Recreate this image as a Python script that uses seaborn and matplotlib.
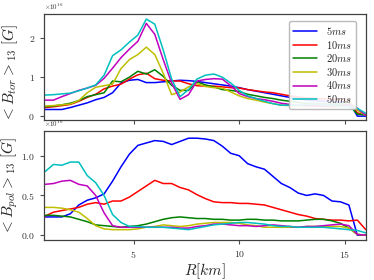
import numpy as np
import pandas as pd
import matplotlib
matplotlib.use("Agg")
import matplotlib.pyplot as plt
import seaborn as sns

R = np.round(np.arange(0.8, 16.01, 0.4), 2)
labels = ["$5ms$", "$10ms$", "$20ms$", "$30ms$", "$40ms$", "$50ms$"]
colors = ["b", "r", "g", "y", "m", "c"]

tor_5 = [0.17,0.17,0.17,0.22,0.28,0.34,0.42,0.48,0.6,0.85,0.92,0.94,0.86,0.86,0.88,0.9,0.92,0.91,0.89,0.86,0.83,0.8,0.77,0.73,0.68,0.64,0.6,0.56,0.52,0.48,0.44,0.41,0.39,0.38,0.37,0.36,0.38,0.0,0.0]
tor_10 = [0.22,0.24,0.27,0.3,0.38,0.48,0.56,0.7,0.77,0.82,0.95,1.06,1.1,0.96,0.92,0.9,0.9,0.83,0.78,0.77,0.77,0.75,0.73,0.72,0.68,0.65,0.62,0.6,0.56,0.52,0.49,0.47,0.45,0.44,0.43,0.43,0.42,0.08,0.03]
tor_20 = [0.24,0.26,0.29,0.33,0.4,0.5,0.55,0.6,0.9,0.88,1.0,1.15,1.08,1.19,1.02,0.79,0.66,0.66,0.88,0.8,0.75,0.68,0.66,0.63,0.56,0.52,0.48,0.45,0.41,0.38,0.35,0.33,0.32,0.31,0.31,0.31,0.3,0.05,0.03]
tor_30 = [0.26,0.27,0.29,0.31,0.4,0.6,0.74,0.78,0.82,1.22,1.45,1.58,1.77,1.58,1.1,0.55,0.62,0.75,0.83,0.76,0.73,0.72,0.62,0.52,0.45,0.41,0.36,0.32,0.28,0.27,0.26,0.26,0.26,0.25,0.24,0.25,0.4,0.15,0.02]
tor_40 = [0.41,0.41,0.5,0.58,0.66,0.72,0.79,0.97,1.23,1.5,1.72,1.92,2.38,2.1,1.45,0.85,0.43,0.55,0.9,0.94,0.96,0.95,0.78,0.58,0.5,0.45,0.42,0.38,0.33,0.3,0.28,0.27,0.26,0.26,0.26,0.27,0.29,0.2,0.02]
tor_50 = [0.54,0.55,0.57,0.59,0.65,0.72,0.8,1.05,1.55,1.7,1.9,2.08,2.49,2.36,1.7,0.95,0.5,0.68,0.95,1.05,1.08,1.0,0.85,0.66,0.52,0.45,0.38,0.32,0.28,0.28,0.28,0.3,0.31,0.3,0.28,0.26,0.23,0.2,0.07]

pol_5 = [0.23,0.23,0.23,0.27,0.38,0.44,0.47,0.52,0.68,0.86,1.02,1.13,1.16,1.19,1.18,1.14,1.18,1.22,1.22,1.21,1.19,1.12,1.03,1.0,0.9,0.86,0.83,0.74,0.65,0.6,0.53,0.5,0.52,0.5,0.43,0.42,0.38,0.0,0.0]
pol_10 = [0.24,0.29,0.31,0.33,0.35,0.39,0.41,0.39,0.43,0.43,0.48,0.55,0.62,0.69,0.65,0.65,0.6,0.57,0.51,0.46,0.42,0.41,0.41,0.4,0.4,0.39,0.38,0.35,0.32,0.29,0.26,0.24,0.21,0.2,0.19,0.19,0.18,0.19,0.07]
pol_20 = [0.25,0.25,0.24,0.23,0.2,0.17,0.13,0.12,0.11,0.1,0.11,0.12,0.14,0.17,0.2,0.22,0.23,0.22,0.21,0.21,0.2,0.2,0.19,0.19,0.2,0.2,0.19,0.19,0.18,0.18,0.18,0.19,0.2,0.2,0.18,0.15,0.09,0.01,0.0]
pol_30 = [0.35,0.35,0.34,0.32,0.29,0.21,0.12,0.08,0.07,0.07,0.07,0.08,0.1,0.11,0.13,0.12,0.11,0.12,0.14,0.15,0.16,0.16,0.16,0.15,0.13,0.12,0.1,0.1,0.1,0.1,0.1,0.11,0.11,0.11,0.11,0.11,0.09,0.01,0.0]
pol_40 = [0.64,0.65,0.68,0.69,0.64,0.62,0.5,0.28,0.12,0.1,0.1,0.1,0.1,0.1,0.1,0.1,0.09,0.09,0.11,0.12,0.14,0.14,0.13,0.12,0.12,0.11,0.12,0.13,0.12,0.11,0.1,0.11,0.11,0.12,0.13,0.14,0.12,0.01,0.0]
pol_50 = [0.8,0.89,0.88,0.92,0.92,0.75,0.66,0.5,0.26,0.16,0.11,0.11,0.1,0.1,0.1,0.09,0.08,0.07,0.09,0.11,0.13,0.14,0.15,0.16,0.16,0.15,0.14,0.12,0.11,0.11,0.1,0.1,0.1,0.1,0.09,0.08,0.07,0.06,0.03]

tor = [tor_5, tor_10, tor_20, tor_30, tor_40, tor_50]
pol = [pol_5, pol_10, pol_20, pol_30, pol_40, pol_50]

def long(series):
    rows = []
    for lab, vals in zip(labels, series):
        for r, v in zip(R, vals):
            rows.append((r, v * 1e16, lab))
    return pd.DataFrame(rows, columns=["R", "B", "t"])

df_tor = long(tor)
df_pol = long(pol)

sns.set_style("ticks")
plt.rcParams["font.family"] = ["cmr10"]
plt.rcParams["mathtext.fontset"] = "cm"
plt.rcParams["axes.formatter.use_mathtext"] = True
plt.rcParams["axes.unicode_minus"] = False

fig = plt.figure(figsize=(3.74, 2.80), dpi=100)
ax1 = fig.add_axes([0.1176, 0.5714, 0.8604, 0.3786])
ax2 = fig.add_axes([0.1176, 0.1429, 0.8604, 0.3891], sharex=ax1)

pal = dict(zip(labels, colors))
sns.lineplot(data=df_tor, x="R", y="B", hue="t", palette=pal, ax=ax1, lw=1.1, legend=True)
sns.lineplot(data=df_pol, x="R", y="B", hue="t", palette=pal, ax=ax2, lw=1.1, legend=False)

ax1.set_xlim(0.75, 16.0)
ax1.set_ylim(-0.1e16, 2.62e16)
ax2.set_ylim(-0.06e16, 1.31e16)
ax1.set_yticks([0, 1e16, 2e16])
ax2.set_yticks([0, 0.5e16, 1.0e16])
ax2.set_xticks([5, 10, 15])
ax1.tick_params(labelbottom=False)
for ax in (ax1, ax2):
    ax.tick_params(labelsize=7, length=3, width=0.8, colors="0.3", labelcolor="0.2")
    ax.yaxis.get_offset_text().set_fontsize(5)
    for s in ax.spines.values():
        s.set_color("0.25")
        s.set_linewidth(0.9)
ax1.set_xlabel("")
ax1.set_ylabel(r"$<B_{tor}>_{13}\ [G]$", fontsize=11)
ax2.set_ylabel(r"$<B_{pol}>_{13}\ [G]$", fontsize=11)
ax2.set_xlabel(r"$R[km]$", fontsize=11, labelpad=1)
ax1.yaxis.set_label_coords(-0.075, 0.45)
ax2.yaxis.set_label_coords(-0.075, 0.5)

leg = ax1.legend(loc="upper right", fontsize=7.5, title=None, frameon=True, fancybox=True,
                 shadow=False, handlelength=2.3, labelspacing=0.15, borderpad=0.4,
                 handletextpad=0.8, framealpha=0.9, edgecolor="0.7",
                 bbox_to_anchor=(0.985, 0.985))
for h in leg.get_lines():
    h.set_linewidth(1.1)

fig.savefig("out.png", dpi=100)
